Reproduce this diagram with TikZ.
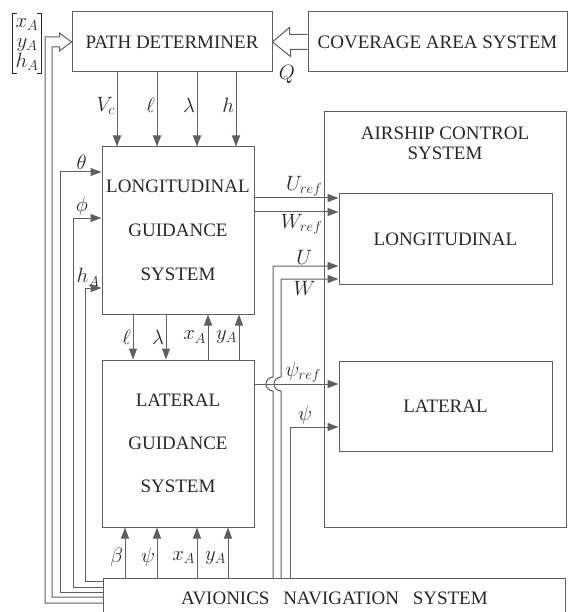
\documentclass[tikz,border=0pt]{standalone}
\usepackage{amsmath}
\usepackage{fontspec}
\setmainfont{Liberation Serif}
\usetikzlibrary{arrows.meta, calc}
\definecolor{lineGray}{RGB}{95,95,95}
\definecolor{textDark}{RGB}{40,40,40}

\begin{document}
\begin{tikzpicture}[
    x=1pt, y=-1pt,
    font=\fontsize{19}{22}\selectfont,
    box/.style={rectangle, draw=lineGray, line width=1pt, text=textDark, align=center, inner sep=0pt},
    arrow/.style={-{Triangle[length=11pt, width=8pt]}, draw=lineGray, line width=1pt},
    wire/.style={draw=lineGray, line width=1pt},
    sig/.style={text=textDark, inner sep=1.5pt, font=\fontsize{20}{22}\selectfont}
]
\useasboundingbox (0,0) rectangle (570,612);
\fill[white] (0,0) rectangle (570,612);

% blocks
\node[box, minimum width=200pt, minimum height=60pt] (pd) at (172,42) {PATH DETERMINER};
\node[box, minimum width=259pt, minimum height=60pt] (cas) at (437.5,42) {COVERAGE AREA SYSTEM};
\node[box, minimum width=152pt, minimum height=167pt] (lgs) at (178,230.5) {LONGITUDINAL\\[22pt]GUIDANCE\\[22pt]SYSTEM};
\node[box, minimum width=152pt, minimum height=167pt] (lat) at (178,443.5) {LATERAL\\[21pt]GUIDANCE\\[21pt]SYSTEM};
\node[box, minimum width=242pt, minimum height=415pt] (acs) at (445,319.5) {};
\node[text=textDark, align=center, anchor=north, inner sep=0pt] (acst) at (445,127) {AIRSHIP CONTROL\\[-2pt]SYSTEM};
\node[box, minimum width=213pt, minimum height=90pt] (lon) at (445.5,239) {LONGITUDINAL};
\node[box, minimum width=213pt, minimum height=90pt] (latc) at (445.5,406) {LATERAL};
\node[box, anchor=north west, minimum width=462pt, minimum height=40pt] (avi) at (103,578) {AVIONICS\hspace{9pt} NAVIGATION\hspace{9pt} SYSTEM};

% position vector
\node[sig, inner sep=0pt, minimum width=28pt, minimum height=57pt, font=\fontsize{20}{23}\selectfont] (xyh) at (27,43.5) {$\renewcommand{\arraystretch}{0.85}\begin{array}{@{}c@{}}x_A\\y_A\\h_A\end{array}$};
\draw[textDark, line width=0.8pt] ([xshift=4pt]xyh.north west) -- (xyh.north west) -- (xyh.south west) -- ([xshift=4pt]xyh.south west);
\draw[textDark, line width=0.8pt] ([xshift=-4pt]xyh.north east) -- (xyh.north east) -- (xyh.south east) -- ([xshift=-4pt]xyh.south east);

% hollow arrows
\draw[wire] ([shift={(0,-7.5)}]cas.west) -- ++(-18,0) -- ++(0,-7) -- (pd.east) -- ++(18,14.5) -- ++(0,-7) -- ([shift={(0,7.5)}]cas.west);
\node[sig] (q) at (287,74) {$Q$};

\coordinate (fb1) at (45,603);
\coordinate (fb2) at (52,597);
\coordinate (fb3) at (60,592);
\coordinate (fb4) at (73,587);
\coordinate (fb5) at (85,581);
\draw[wire] (avi.west |- fb1) -- (fb1) |- ([shift={(-12,-5)}]pd.west) -- ++(0,-4) -- (pd.west) -- ++(-12,9) -- ++(0,-4) -| (fb2) -- (avi.west |- fb2);

% path determiner to longitudinal guidance
\foreach \xx/\lab [count=\i] in {117/V_c, 157/\ell, 197/\lambda, 236/h} {
  \coordinate (pdo\i) at (\xx,0);
  \draw[arrow] (pd.south -| pdo\i) -- (lgs.north -| pdo\i) node[sig, pos=0.45, left] {$\lab$};
}

% between guidance systems
\coordinate (gl) at (133,0);
\coordinate (gm) at (166,0);
\coordinate (gx) at (208,0);
\coordinate (gy) at (239,0);
\draw[arrow] (lgs.south -| gl) -- (lat.north -| gl) node[sig, midway, left] {$\ell$};
\draw[arrow] (lgs.south -| gm) -- (lat.north -| gm) node[sig, midway, left] {$\lambda$};
\draw[arrow] (lat.north -| gx) -- (lgs.south -| gx) node[sig, midway, left] {$x_A$};
\draw[arrow] (lat.north -| gy) -- (lgs.south -| gy) node[sig, midway, left] {$y_A$};

% avionics to lateral guidance
\coordinate (ab) at (125,0);
\coordinate (ap) at (157,0);
\coordinate (ax) at (197,0);
\coordinate (ay) at (228,0);
\draw[arrow] (avi.north -| ab) -- (lat.south -| ab) node[sig, pos=0.4, left] {$\beta$};
\draw[arrow] (avi.north -| ap) -- (lat.south -| ap) node[sig, pos=0.4, left] {$\psi$};
\draw[arrow] (avi.north -| ax) -- (lat.south -| ax) node[sig, pos=0.4, left] {$x_A$};
\draw[arrow] (avi.north -| ay) -- (lat.south -| ay) node[sig, pos=0.4, left] {$y_A$};

% feedback into longitudinal guidance
\coordinate (thy) at (0,172);
\coordinate (phy) at (0,218);
\coordinate (hay) at (0,288);
\draw[arrow] (avi.west |- fb3) -- (fb3) -- (fb3 |- thy) -- (lgs.west |- thy) node[sig, pos=0.52, above] {$\theta$};
\draw[arrow] (avi.west |- fb4) -- (fb4) -- (fb4 |- phy) -- (lgs.west |- phy) node[sig, pos=0.31, above] {$\phi$};
\draw[arrow] (avi.west |- fb5) -- (fb5) -- (fb5 |- hay) -- (lgs.west |- hay) node[sig, pos=0.18, above] {$h_A$};

% references and states into airship control
\coordinate (uref) at (0,198);
\coordinate (wref) at (0,212);
\coordinate (psr) at (0,384);
\draw[arrow] (lgs.east |- uref) -- (lon.west |- uref) node[sig, pos=0.59, above] {$U_{ref}$};
\draw[arrow] (lgs.east |- wref) -- (lon.west |- wref) node[sig, pos=0.56, below] {$W_{ref}$};
\draw[arrow] (lat.east |- psr) -- (latc.west |- psr) node[sig, pos=0.58, above] {$\psi_{ref}$};

\coordinate (ux) at (273,266);
\coordinate (wx) at (281,279);
\coordinate (px) at (290,427);
\draw[arrow] (avi.north -| ux) -- ($(ux |- psr)+(0,7)$) arc[start angle=90, end angle=270, radius=7] -- (ux) -- (lon.west |- ux) node[sig, pos=0.48, above] {$U$};
\draw[arrow] (avi.north -| wx) -- ($(wx |- psr)+(0,7)$) arc[start angle=90, end angle=270, radius=7] -- (wx) -- (lon.west |- wx) node[sig, pos=0.41, below] {$W$};
\draw[arrow] (avi.north -| px) -- (px) -- (latc.west |- px) node[sig, pos=0.31, above] {$\psi$};
\end{tikzpicture}
\end{document}
